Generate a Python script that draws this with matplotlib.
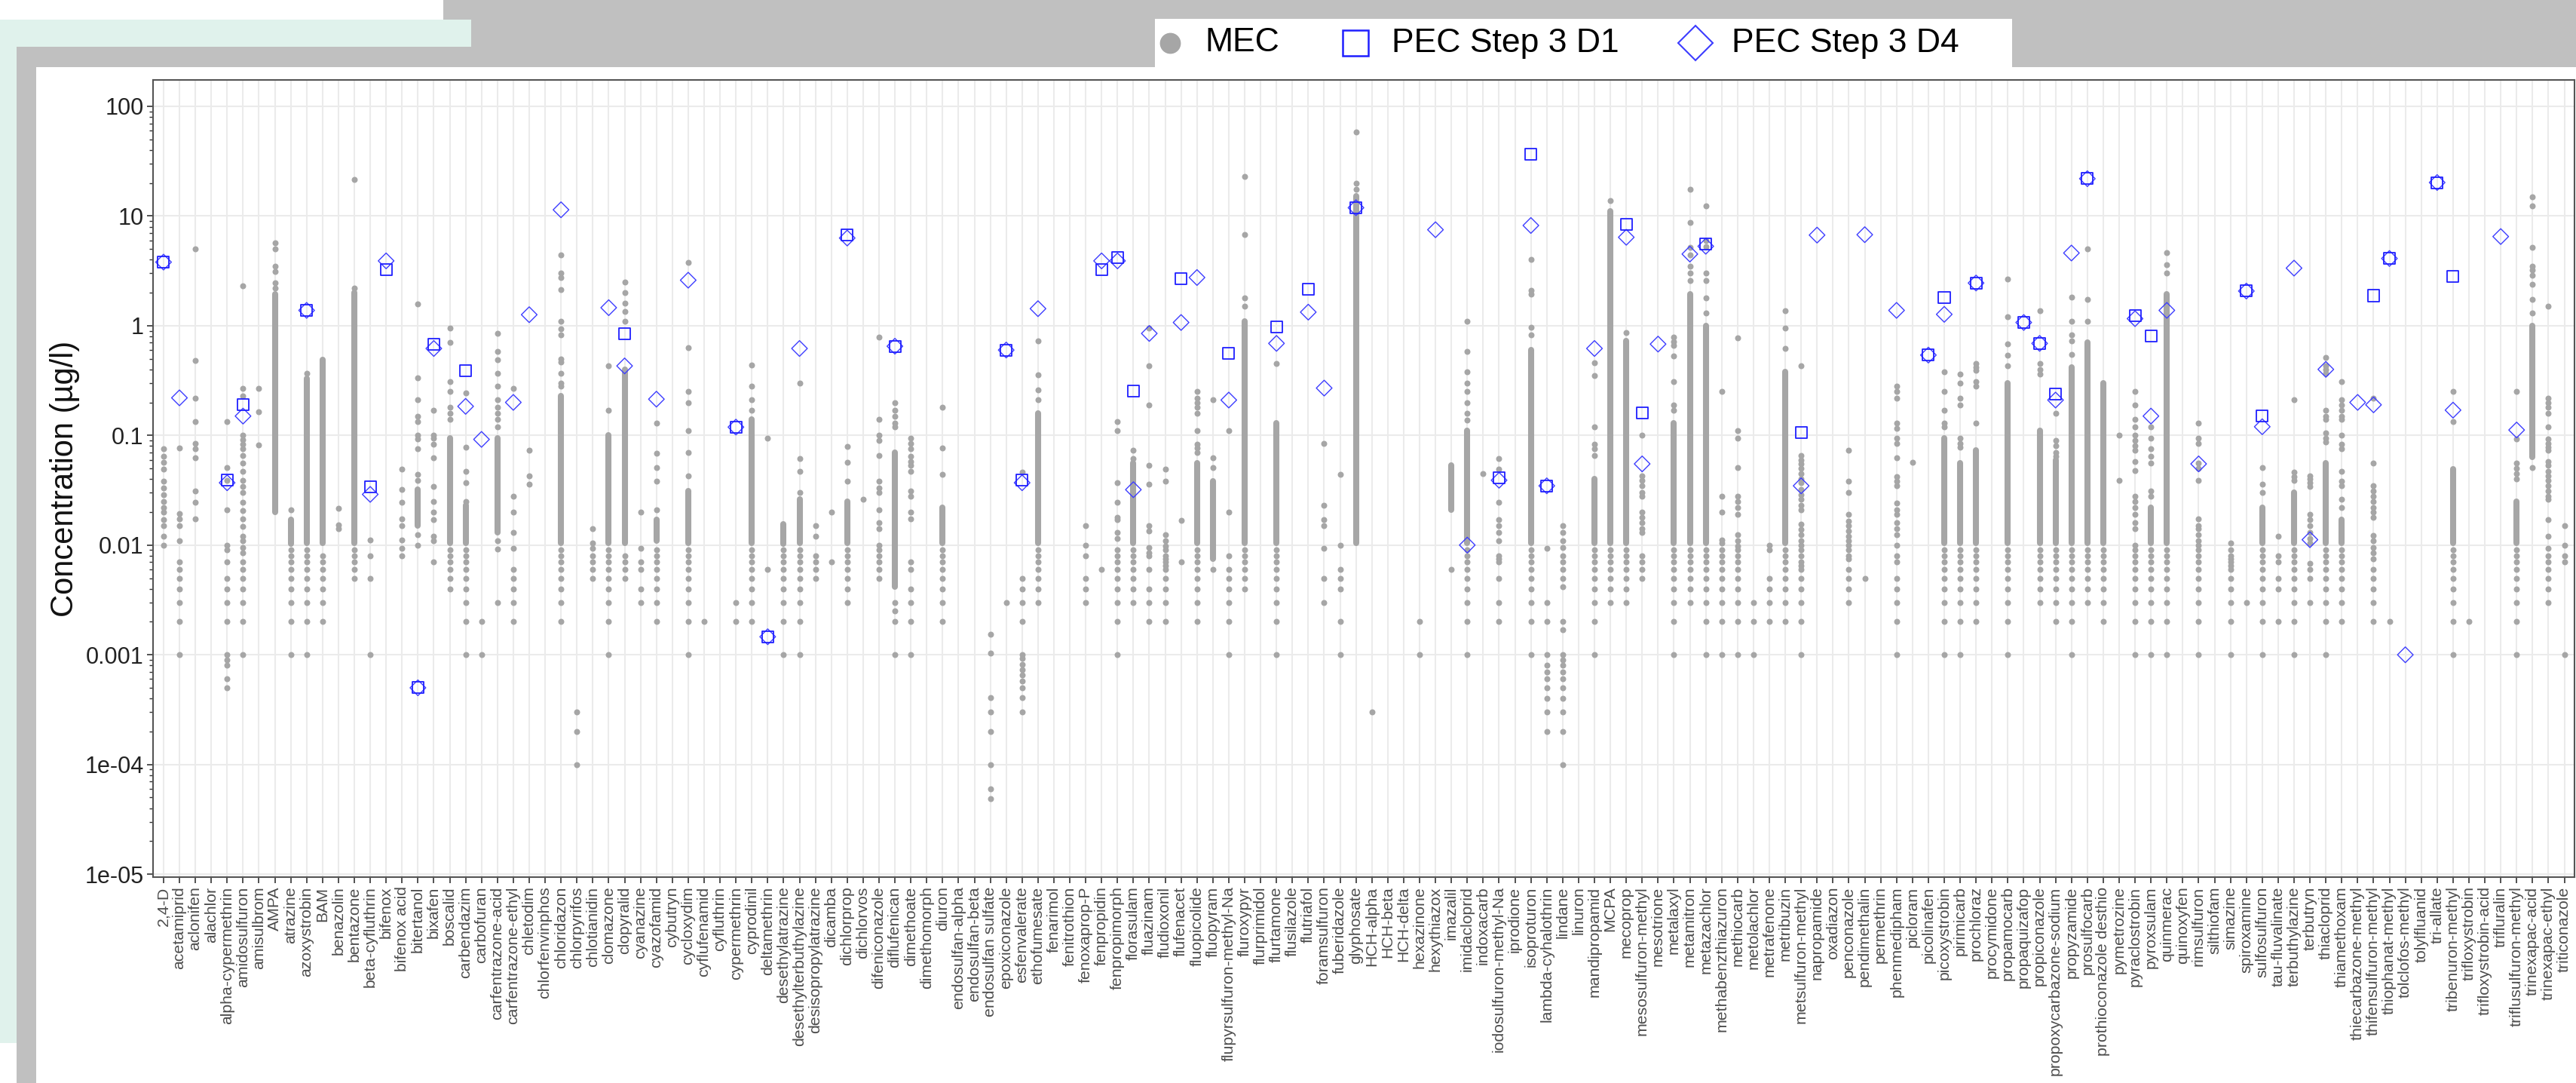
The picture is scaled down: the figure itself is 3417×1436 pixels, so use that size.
import matplotlib
matplotlib.use("Agg")
import matplotlib.pyplot as plt
from matplotlib.patches import Rectangle
from matplotlib.lines import Line2D
from matplotlib.ticker import LogLocator, NullFormatter

plt.rcParams['font.family'] = ['Liberation Sans', 'DejaVu Sans']

compounds = [
    "2,4-D", "acetamiprid", "aclonifen", "alachlor", "alpha-cypermethrin", "amidosulfuron",
    "amisulbrom", "AMPA", "atrazine", "azoxystrobin", "BAM", "benazolin", "bentazone",
    "beta-cyfluthrin", "bifenox", "bifenox acid", "bitertanol", "bixafen", "boscalid",
    "carbendazim", "carbofuran", "carfentrazone-acid", "carfentrazone-ethyl", "chletodim",
    "chlorfenvinphos", "chloridazon", "chlorpyrifos", "chlotianidin", "clomazone", "clopyralid",
    "cyanazine", "cyazofamid", "cybutryn", "cycloxydim", "cyflufenamid", "cyfluthrin",
    "cypermethrin", "cyprodinil", "deltamethrin", "desethylatrazine", "desethylterbuthylazine",
    "desisopropylatrazine", "dicamba", "dichlorprop", "dichlorvos", "difeniconazole",
    "diflufenican", "dimethoate", "dimethomorph", "diuron", "endosulfan-alpha", "endosulfan-beta",
    "endosulfan sulfate", "epoxiconazole", "esfenvalerate", "ethofumesate", "fenarimol",
    "fenitrothion", "fenoxaprop-P", "fenpropidin", "fenpropimorph", "florasulam", "fluazinam",
    "fludioxonil", "flufenacet", "fluopicolide", "fluopyram", "flupyrsulfuron-methyl-Na",
    "fluroxypyr", "flurprimidol", "flurtamone", "flusilazole", "flutriafol", "foramsulfuron",
    "fuberidazole", "glyphosate", "HCH-alpha", "HCH-beta", "HCH-delta", "hexazinone",
    "hexythiazox", "imazalil", "imidacloprid", "indoxacarb", "iodosulfuron-methyl-Na",
    "iprodione", "isoproturon", "lambda-cyhalothrin", "lindane", "linuron", "mandipropamid",
    "MCPA", "mecoprop", "mesosulfuron-methyl", "mesotrione", "metalaxyl", "metamitron",
    "metazachlor", "methabenzthiazuron", "methiocarb", "metolachlor", "metrafenone",
    "metribuzin", "metsulfuron-methyl", "napropamide", "oxadiazon", "penconazole",
    "pendimethalin", "permethrin", "phenmedipham", "picloram", "picolinafen", "picoxystrobin",
    "pirimicarb", "prochloraz", "procymidone", "propamocarb", "propaquizafop", "propiconazole",
    "propoxycarbazone-sodium", "propyzamide", "prosulfocarb", "prothioconazole desthio",
    "pymetrozine", "pyraclostrobin", "pyroxsulam", "quinmerac", "quinoxyfen", "rimsulfuron",
    "silthiofam", "simazine", "spiroxamine", "sulfosulfuron", "tau-fluvalinate",
    "terbuthylazine", "terbutryn", "thiacloprid", "thiamethoxam", "thiecarbazone-methyl",
    "thifensulfuron-methyl", "thiophanat-methyl", "tolclofos-methyl", "tolylfluanid",
    "tri-allate", "tribenuron-methyl", "trifloxystrobin", "trifloxystrobin-acid", "trifluralin",
    "triflusulfuron-methyl", "trinexapac-acid", "trinexapac-ethyl", "triticonazole",
]

# measured environmental concentrations (single dots)
mec_points = {
    "2,4-D": [0.075, 0.065, 0.057, 0.049, 0.038, 0.033, 0.029, 0.025, 0.022, 0.02, 0.017, 0.015, 0.012, 0.01],
    "acetamiprid": [0.077, 0.0195, 0.0174, 0.015, 0.011, 0.007, 0.006, 0.005, 0.004, 0.003, 0.002, 0.001],
    "aclonifen": [5.0, 0.48, 0.22, 0.133, 0.084, 0.075, 0.063, 0.031, 0.0245, 0.0174],
    "alpha-cypermethrin": [0.133, 0.051, 0.039, 0.021, 0.01, 0.009, 0.007, 0.005, 0.004, 0.003, 0.002,
                           0.001, 0.0009, 0.0008, 0.0006, 0.0005],
    "amidosulfuron": [2.3, 0.27, 0.23, 0.1, 0.092, 0.083, 0.075, 0.066, 0.056, 0.047, 0.039, 0.034, 0.03,
                      0.0245, 0.0205, 0.0174, 0.0147, 0.012, 0.011, 0.0095, 0.0085, 0.007, 0.006, 0.005,
                      0.004, 0.003, 0.002, 0.001],
    "amisulbrom": [0.27, 0.164, 0.082],
    "AMPA": [5.7, 5.0, 3.5, 3.1, 2.45, 2.2],
    "atrazine": [0.021, 0.009, 0.008, 0.007, 0.006, 0.005, 0.004, 0.003, 0.002, 0.001],
    "azoxystrobin": [0.37, 0.009, 0.008, 0.007, 0.006, 0.005, 0.004, 0.003, 0.002, 0.001],
    "BAM": [0.008, 0.007, 0.006, 0.005, 0.004, 0.003, 0.002],
    "benazolin": [0.0215, 0.0153, 0.0142],
    "bentazone": [21.4, 2.2, 0.009, 0.008, 0.007, 0.006, 0.005],
    "beta-cyfluthrin": [0.0112, 0.008, 0.005, 0.001],
    "bifenox acid": [0.049, 0.032, 0.0245, 0.0174, 0.015, 0.0112, 0.0094, 0.008],
    "bitertanol": [1.58, 0.335, 0.21, 0.15, 0.133, 0.1, 0.093, 0.075, 0.044, 0.039, 0.0124, 0.01],
    "bixafen": [0.17, 0.1, 0.095, 0.083, 0.063, 0.034, 0.025, 0.02, 0.017, 0.012, 0.011, 0.007],
    "boscalid": [0.95, 0.71, 0.31, 0.25, 0.18, 0.16, 0.14, 0.009, 0.008, 0.007, 0.006, 0.005, 0.004],
    "carbendazim": [0.245, 0.078, 0.047, 0.037, 0.025, 0.009, 0.008, 0.007, 0.006, 0.005, 0.004, 0.003,
                    0.002, 0.001],
    "carbofuran": [0.002, 0.001],
    "carfentrazone-acid": [0.85, 0.58, 0.49, 0.37, 0.28, 0.21, 0.18, 0.16, 0.14, 0.12, 0.011, 0.0092, 0.003],
    "carfentrazone-ethyl": [0.27, 0.028, 0.02, 0.013, 0.0093, 0.006, 0.005, 0.004, 0.003, 0.002],
    "chletodim": [0.073, 0.043, 0.036],
    "chloridazon": [4.4, 3.0, 2.75, 2.14, 1.1, 0.94, 0.83, 0.5, 0.47, 0.37, 0.3, 0.28, 0.009, 0.008,
                    0.007, 0.006, 0.005, 0.004, 0.003, 0.002],
    "chlorpyrifos": [0.0003, 0.0002, 0.0001],
    "chlotianidin": [0.0142, 0.0104, 0.0094, 0.008, 0.007, 0.006, 0.005],
    "clomazone": [0.43, 0.17, 0.009, 0.008, 0.007, 0.006, 0.005, 0.004, 0.003, 0.002, 0.001],
    "clopyralid": [2.5, 2.0, 1.6, 1.35, 1.1, 0.008, 0.007, 0.006, 0.005],
    "cyanazine": [0.02, 0.0094, 0.007, 0.006, 0.004, 0.003],
    "cyazofamid": [0.13, 0.069, 0.051, 0.038, 0.021, 0.009, 0.008, 0.007, 0.006, 0.005, 0.004, 0.003, 0.002],
    "cycloxydim": [3.76, 0.63, 0.25, 0.2, 0.11, 0.07, 0.043, 0.009, 0.008, 0.007, 0.006, 0.005, 0.004,
                   0.003, 0.002, 0.001],
    "cyflufenamid": [0.002],
    "cypermethrin": [0.003, 0.002],
    "cyprodinil": [0.44, 0.28, 0.21, 0.17, 0.009, 0.008, 0.007, 0.006, 0.005, 0.004, 0.003, 0.002],
    "deltamethrin": [0.094, 0.006],
    "desethylatrazine": [0.009, 0.008, 0.007, 0.006, 0.005, 0.004, 0.003, 0.002, 0.001],
    "desethylterbuthylazine": [0.3, 0.062, 0.047, 0.03, 0.009, 0.008, 0.007, 0.006, 0.005, 0.004, 0.003,
                               0.002, 0.001],
    "desisopropylatrazine": [0.015, 0.012, 0.008, 0.007, 0.006, 0.005],
    "dicamba": [0.02, 0.007],
    "dichlorprop": [0.079, 0.057, 0.038, 0.009, 0.008, 0.007, 0.006, 0.005, 0.004, 0.003],
    "dichlorvos": [0.026],
    "difeniconazole": [0.79, 0.14, 0.1, 0.09, 0.066, 0.038, 0.033, 0.03, 0.021, 0.016, 0.0142, 0.01,
                       0.009, 0.008, 0.007, 0.006, 0.005],
    "diflufenican": [0.2, 0.17, 0.15, 0.13, 0.12, 0.003, 0.0025, 0.002, 0.001],
    "dimethoate": [0.094, 0.085, 0.075, 0.065, 0.058, 0.053, 0.047, 0.031, 0.028, 0.02, 0.0174, 0.007,
                   0.006, 0.004, 0.003, 0.002, 0.001],
    "diuron": [0.18, 0.077, 0.044, 0.009, 0.008, 0.007, 0.006, 0.005, 0.004, 0.003, 0.002],
    "endosulfan sulfate": [0.00155, 0.00104, 0.00041, 0.0003, 0.0002, 0.0001, 6e-5, 4.9e-5],
    "epoxiconazole": [0.003],
    "esfenvalerate": [0.046, 0.005, 0.004, 0.003, 0.002, 0.001, 0.00092, 0.00082, 0.00073, 0.00065,
                      0.00058, 0.0005, 0.00041, 0.0003],
    "ethofumesate": [0.73, 0.355, 0.26, 0.21, 0.009, 0.008, 0.007, 0.006, 0.005, 0.004, 0.003],
    "fenoxaprop-P": [0.015, 0.01, 0.008, 0.005, 0.004, 0.003],
    "fenpropidin": [0.006],
    "fenpropimorph": [0.133, 0.11, 0.037, 0.0245, 0.018, 0.017, 0.013, 0.0115, 0.009, 0.008, 0.007,
                      0.006, 0.005, 0.004, 0.003, 0.002, 0.001],
    "florasulam": [0.073, 0.062, 0.009, 0.008, 0.007, 0.006, 0.005, 0.004, 0.003],
    "fluazinam": [0.95, 0.43, 0.19, 0.053, 0.036, 0.015, 0.0135, 0.0095, 0.0085, 0.008, 0.006, 0.004,
                  0.003, 0.002],
    "fludioxonil": [0.049, 0.038, 0.0124, 0.011, 0.0098, 0.009, 0.008, 0.0075, 0.007, 0.0065, 0.006,
                    0.005, 0.004, 0.003, 0.002],
    "flufenacet": [0.0167, 0.007],
    "fluopicolide": [0.25, 0.22, 0.2, 0.18, 0.16, 0.11, 0.083, 0.077, 0.07, 0.009, 0.008, 0.007, 0.006,
                     0.005, 0.004, 0.003, 0.002],
    "fluopyram": [0.21, 0.063, 0.051, 0.006],
    "flupyrsulfuron-methyl-Na": [0.11, 0.02, 0.008, 0.006, 0.005, 0.004, 0.003, 0.002, 0.001],
    "fluroxypyr": [23, 6.8, 1.8, 1.5, 0.009, 0.008, 0.007, 0.006, 0.005, 0.004],
    "flurtamone": [0.45, 0.009, 0.008, 0.007, 0.006, 0.005, 0.004, 0.003, 0.002, 0.001],
    "foramsulfuron": [0.085, 0.023, 0.017, 0.015, 0.0094, 0.005, 0.003],
    "fuberidazole": [0.044, 0.01, 0.006, 0.005, 0.004, 0.002, 0.001],
    "glyphosate": [58, 20, 17.5],
    "HCH-alpha": [0.0003],
    "hexazinone": [0.002, 0.001],
    "imazalil": [0.006],
    "imidacloprid": [1.1, 0.58, 0.38, 0.3, 0.25, 0.2, 0.16, 0.137, 0.009, 0.008, 0.007, 0.006, 0.005,
                     0.004, 0.003, 0.002, 0.001],
    "indoxacarb": [0.045],
    "iodosulfuron-methyl-Na": [0.062, 0.049, 0.0245, 0.017, 0.015, 0.013, 0.011, 0.008, 0.0075, 0.007,
                               0.005, 0.003, 0.002],
    "isoproturon": [4.0, 2.1, 1.95, 0.96, 0.83, 0.009, 0.008, 0.007, 0.006, 0.005, 0.004, 0.003, 0.002, 0.001],
    "lambda-cyhalothrin": [0.0094, 0.003, 0.002, 0.001, 0.0008, 0.0007, 0.0006, 0.0005, 0.0004, 0.0003, 0.0002],
    "lindane": [0.015, 0.013, 0.011, 0.0095, 0.008, 0.007, 0.006, 0.005, 0.0042, 0.002, 0.0017, 0.001,
                0.0009, 0.0008, 0.0007, 0.0006, 0.0005, 0.0004, 0.0003, 0.0002, 0.0001],
    "mandipropamid": [0.46, 0.35, 0.12, 0.083, 0.075, 0.066, 0.009, 0.008, 0.007, 0.006, 0.005, 0.004,
                      0.003, 0.002, 0.001],
    "MCPA": [13.8, 0.009, 0.008, 0.007, 0.006, 0.005, 0.004, 0.003],
    "mecoprop": [0.87, 0.009, 0.008, 0.007, 0.006, 0.005, 0.004, 0.003],
    "mesosulfuron-methyl": [0.1, 0.043, 0.039, 0.035, 0.03, 0.028, 0.02, 0.018, 0.016, 0.0142, 0.013,
                            0.008, 0.007, 0.006, 0.005],
    "metalaxyl": [0.79, 0.72, 0.66, 0.53, 0.31, 0.19, 0.17, 0.009, 0.008, 0.007, 0.006, 0.005, 0.004,
                  0.003, 0.002, 0.001],
    "metamitron": [17.4, 8.7, 5.2, 4.4, 3.5, 3.0, 2.6, 0.009, 0.008, 0.007, 0.006, 0.005, 0.004, 0.003],
    "metazachlor": [12.3, 6.0, 5.3, 3.0, 2.6, 1.8, 1.3, 0.009, 0.008, 0.007, 0.006, 0.005, 0.004, 0.003,
                    0.002, 0.001],
    "methabenzthiazuron": [0.25, 0.028, 0.02, 0.0112, 0.0104, 0.009, 0.008, 0.007, 0.006, 0.005, 0.004,
                           0.003, 0.002, 0.001],
    "methiocarb": [0.77, 0.11, 0.095, 0.051, 0.028, 0.025, 0.022, 0.019, 0.0124, 0.011, 0.0098, 0.009,
                   0.008, 0.007, 0.006, 0.005, 0.004, 0.003, 0.002, 0.001],
    "metolachlor": [0.003, 0.002, 0.001],
    "metrafenone": [0.01, 0.009, 0.005, 0.004, 0.003, 0.002],
    "metribuzin": [1.38, 0.95, 0.62, 0.009, 0.008, 0.007, 0.006, 0.005, 0.004, 0.003, 0.002],
    "metsulfuron-methyl": [0.43, 0.066, 0.06, 0.055, 0.05, 0.045, 0.04, 0.037, 0.032, 0.029, 0.026, 0.023,
                           0.021, 0.0155, 0.014, 0.0125, 0.011, 0.01, 0.009, 0.008, 0.007, 0.0065, 0.006,
                           0.005, 0.004, 0.003, 0.002, 0.001],
    "penconazole": [0.073, 0.0385, 0.03, 0.019, 0.0165, 0.015, 0.0135, 0.012, 0.011, 0.01, 0.009, 0.008,
                    0.0075, 0.006, 0.005, 0.004, 0.003],
    "pendimethalin": [0.005],
    "phenmedipham": [0.28, 0.25, 0.22, 0.13, 0.115, 0.095, 0.085, 0.063, 0.042, 0.038, 0.035, 0.024, 0.021,
                     0.019, 0.016, 0.0142, 0.0125, 0.01, 0.008, 0.007, 0.005, 0.004, 0.003, 0.002, 0.001],
    "picloram": [0.057],
    "picoxystrobin": [0.38, 0.25, 0.17, 0.13, 0.12, 0.009, 0.008, 0.007, 0.006, 0.005, 0.004, 0.003,
                      0.002, 0.001],
    "pirimicarb": [0.36, 0.3, 0.22, 0.19, 0.095, 0.085, 0.078, 0.009, 0.008, 0.007, 0.006, 0.005, 0.004,
                   0.003, 0.002, 0.001],
    "prochloraz": [0.45, 0.42, 0.39, 0.31, 0.28, 0.13, 0.009, 0.008, 0.007, 0.006, 0.005, 0.004, 0.003, 0.002],
    "propamocarb": [2.66, 1.2, 0.68, 0.54, 0.43, 0.009, 0.008, 0.007, 0.006, 0.005, 0.004, 0.003, 0.002, 0.001],
    "propiconazole": [1.38, 0.45, 0.4, 0.36, 0.009, 0.008, 0.007, 0.006, 0.005, 0.004, 0.003],
    "propoxycarbazone-sodium": [0.16, 0.09, 0.08, 0.07, 0.065, 0.009, 0.008, 0.007, 0.006, 0.005, 0.004,
                                0.003, 0.002],
    "propyzamide": [1.83, 1.1, 0.83, 0.73, 0.55, 0.009, 0.008, 0.007, 0.006, 0.005, 0.004, 0.003, 0.002, 0.001],
    "prosulfocarb": [5.0, 1.75, 1.1, 0.009, 0.008, 0.007, 0.006, 0.005, 0.004, 0.003],
    "prothioconazole desthio": [0.009, 0.008, 0.007, 0.006, 0.005, 0.004, 0.003, 0.002],
    "pymetrozine": [0.1, 0.039],
    "pyraclostrobin": [0.25, 0.19, 0.14, 0.12, 0.1, 0.09, 0.08, 0.073, 0.058, 0.048, 0.028, 0.025, 0.022,
                       0.019, 0.016, 0.0142, 0.01, 0.009, 0.008, 0.007, 0.006, 0.005, 0.004, 0.003, 0.002, 0.001],
    "pyroxsulam": [0.12, 0.095, 0.075, 0.065, 0.056, 0.031, 0.028, 0.009, 0.008, 0.007, 0.006, 0.005,
                   0.004, 0.003, 0.002, 0.001],
    "quinmerac": [4.6, 3.6, 3.0, 0.009, 0.008, 0.007, 0.006, 0.005, 0.004, 0.003, 0.002, 0.001],
    "rimsulfuron": [0.13, 0.095, 0.085, 0.056, 0.05, 0.039, 0.0174, 0.015, 0.0142, 0.0125, 0.011, 0.01,
                    0.009, 0.008, 0.007, 0.006, 0.005, 0.004, 0.003, 0.002, 0.001],
    "simazine": [0.0104, 0.009, 0.008, 0.0075, 0.007, 0.0065, 0.006, 0.005, 0.004, 0.003, 0.002, 0.001],
    "spiroxamine": [0.003],
    "sulfosulfuron": [0.051, 0.036, 0.03, 0.009, 0.008, 0.007, 0.006, 0.005, 0.004, 0.003, 0.002, 0.001],
    "tau-fluvalinate": [0.012, 0.008, 0.007, 0.005, 0.004, 0.002],
    "terbuthylazine": [0.21, 0.046, 0.042, 0.039, 0.009, 0.008, 0.007, 0.006, 0.005, 0.004, 0.003,
                       0.002, 0.001],
    "terbutryn": [0.043, 0.04, 0.037, 0.034, 0.019, 0.017, 0.015, 0.013, 0.0115, 0.0104, 0.0068, 0.006,
                  0.005, 0.003],
    "thiacloprid": [0.51, 0.43, 0.4, 0.37, 0.17, 0.15, 0.14, 0.105, 0.095, 0.087, 0.009, 0.008, 0.007,
                    0.006, 0.005, 0.004, 0.003, 0.002, 0.001],
    "thiamethoxam": [0.31, 0.21, 0.19, 0.17, 0.15, 0.14, 0.1, 0.083, 0.075, 0.047, 0.038, 0.035, 0.026,
                     0.022, 0.009, 0.008, 0.007, 0.006, 0.005, 0.004, 0.003, 0.002],
    "thifensulfuron-methyl": [0.22, 0.056, 0.035, 0.031, 0.028, 0.025, 0.022, 0.02, 0.018, 0.0122, 0.011,
                              0.0095, 0.0085, 0.0075, 0.006, 0.005, 0.004, 0.003, 0.002],
    "thiophanat-methyl": [0.002],
    "tribenuron-methyl": [0.25, 0.133, 0.009, 0.008, 0.007, 0.006, 0.005, 0.004, 0.003, 0.002, 0.001],
    "trifloxystrobin": [0.002],
    "triflusulfuron-methyl": [0.25, 0.093, 0.056, 0.05, 0.045, 0.04, 0.009, 0.008, 0.007, 0.006, 0.005,
                              0.004, 0.003, 0.002, 0.001],
    "trinexapac-acid": [15, 12.4, 5.2, 3.5, 3.2, 2.9, 2.4, 1.75, 1.3, 0.051],
    "trinexapac-ethyl": [1.5, 0.22, 0.2, 0.18, 0.16, 0.12, 0.093, 0.085, 0.078, 0.073, 0.058, 0.053, 0.047,
                         0.043, 0.039, 0.035, 0.031, 0.028, 0.026, 0.017, 0.012, 0.0094, 0.008, 0.007,
                         0.006, 0.005, 0.004, 0.003],
    "triticonazole": [0.015, 0.01, 0.008, 0.007, 0.001],
}

# stretches where MEC dots overlap into a continuous column (low, high)
mec_dense = {
    "AMPA": (0.02, 1.95), "atrazine": (0.0103, 0.017), "azoxystrobin": (0.0104, 0.33),
    "BAM": (0.0104, 0.49), "bentazone": (0.0104, 2.0), "bitertanol": (0.015, 0.032),
    "boscalid": (0.0104, 0.095), "carbendazim": (0.0104, 0.023), "carfentrazone-acid": (0.013, 0.095),
    "chloridazon": (0.0104, 0.23), "clomazone": (0.0104, 0.1), "clopyralid": (0.0104, 0.4),
    "cyazofamid": (0.011, 0.017), "cycloxydim": (0.0104, 0.031), "cyprodinil": (0.0104, 0.14),
    "desethylatrazine": (0.0103, 0.0155), "desethylterbuthylazine": (0.0104, 0.026),
    "dichlorprop": (0.0104, 0.025), "diflufenican": (0.0042, 0.07), "diuron": (0.0104, 0.022),
    "ethofumesate": (0.0104, 0.16), "florasulam": (0.0104, 0.056), "fluopicolide": (0.0104, 0.056),
    "fluopyram": (0.0075, 0.038), "fluroxypyr": (0.0104, 1.1), "flurtamone": (0.0104, 0.13),
    "glyphosate": (0.0104, 15.2), "imazalil": (0.021, 0.053), "imidacloprid": (0.0104, 0.11),
    "isoproturon": (0.0104, 0.6), "mandipropamid": (0.0104, 0.04), "MCPA": (0.0104, 11.0),
    "mecoprop": (0.0104, 0.73), "metalaxyl": (0.0104, 0.13), "metamitron": (0.0104, 1.95),
    "metazachlor": (0.0104, 1.0), "metribuzin": (0.0104, 0.38), "picoxystrobin": (0.0104, 0.095),
    "pirimicarb": (0.0104, 0.056), "prochloraz": (0.0104, 0.073), "propamocarb": (0.0104, 0.3),
    "propiconazole": (0.0104, 0.11), "propoxycarbazone-sodium": (0.0104, 0.06),
    "propyzamide": (0.0104, 0.42), "prosulfocarb": (0.0104, 0.7),
    "prothioconazole desthio": (0.0104, 0.3), "pyroxsulam": (0.0104, 0.022),
    "quinmerac": (0.0104, 1.95), "sulfosulfuron": (0.0104, 0.022), "terbuthylazine": (0.0104, 0.03),
    "thiacloprid": (0.0104, 0.056), "thiamethoxam": (0.0104, 0.017), "tribenuron-methyl": (0.0104, 0.049),
    "triflusulfuron-methyl": (0.0104, 0.025), "trinexapac-acid": (0.064, 1.0),
}

pec_d1 = {
    "2,4-D": 3.8, "alpha-cypermethrin": 0.039, "amidosulfuron": 0.19, "azoxystrobin": 1.38,
    "beta-cyfluthrin": 0.034, "bifenox": 3.27, "bitertanol": 0.0005, "bixafen": 0.68,
    "carbendazim": 0.39, "clopyralid": 0.84, "cypermethrin": 0.119, "deltamethrin": 0.00146,
    "dichlorprop": 6.7, "diflufenican": 0.65, "epoxiconazole": 0.6, "esfenvalerate": 0.039,
    "fenpropidin": 3.27, "fenpropimorph": 4.2, "florasulam": 0.254, "flufenacet": 2.7,
    "flupyrsulfuron-methyl-Na": 0.56, "flurtamone": 0.98, "flutriafol": 2.14, "glyphosate": 11.9,
    "iodosulfuron-methyl-Na": 0.041, "isoproturon": 36.7, "lambda-cyhalothrin": 0.0347,
    "mecoprop": 8.4, "mesosulfuron-methyl": 0.16, "metazachlor": 5.6, "metsulfuron-methyl": 0.106,
    "picolinafen": 0.54, "picoxystrobin": 1.8, "prochloraz": 2.45, "propaquizafop": 1.07,
    "propiconazole": 0.69, "propoxycarbazone-sodium": 0.24, "prosulfocarb": 21.9,
    "pyraclostrobin": 1.23, "pyroxsulam": 0.81, "spiroxamine": 2.07, "sulfosulfuron": 0.15,
    "thifensulfuron-methyl": 1.88, "thiophanat-methyl": 4.1, "tri-allate": 20.2,
    "tribenuron-methyl": 2.8,
}

pec_d4 = {
    "2,4-D": 3.8, "acetamiprid": 0.22, "alpha-cypermethrin": 0.037, "amidosulfuron": 0.15,
    "azoxystrobin": 1.38, "beta-cyfluthrin": 0.029, "bifenox": 3.9, "bitertanol": 0.0005,
    "bixafen": 0.62, "carbendazim": 0.184, "carbofuran": 0.092, "carfentrazone-ethyl": 0.2,
    "chletodim": 1.26, "chloridazon": 11.4, "clomazone": 1.46, "clopyralid": 0.43,
    "cyazofamid": 0.214, "cycloxydim": 2.6, "cypermethrin": 0.119, "deltamethrin": 0.00146,
    "desethylterbuthylazine": 0.62, "dichlorprop": 6.3, "diflufenican": 0.65, "epoxiconazole": 0.6,
    "esfenvalerate": 0.037, "ethofumesate": 1.43, "fenpropidin": 3.9, "fenpropimorph": 3.9,
    "florasulam": 0.032, "fluazinam": 0.85, "flufenacet": 1.07, "fluopicolide": 2.75,
    "flupyrsulfuron-methyl-Na": 0.21, "flurtamone": 0.69, "flutriafol": 1.33, "foramsulfuron": 0.27,
    "glyphosate": 11.9, "hexythiazox": 7.5, "imidacloprid": 0.01, "iodosulfuron-methyl-Na": 0.039,
    "isoproturon": 8.2, "lambda-cyhalothrin": 0.0347, "mandipropamid": 0.62, "mecoprop": 6.4,
    "mesosulfuron-methyl": 0.055, "mesotrione": 0.68, "metamitron": 4.5, "metazachlor": 5.3,
    "metsulfuron-methyl": 0.0347, "napropamide": 6.7, "pendimethalin": 6.76, "phenmedipham": 1.38,
    "picolinafen": 0.54, "picoxystrobin": 1.27, "prochloraz": 2.45, "propaquizafop": 1.07,
    "propiconazole": 0.69, "propoxycarbazone-sodium": 0.21, "propyzamide": 4.6, "prosulfocarb": 21.9,
    "pyraclostrobin": 1.16, "pyroxsulam": 0.15, "quinmerac": 1.38, "rimsulfuron": 0.055,
    "spiroxamine": 2.07, "sulfosulfuron": 0.12, "terbuthylazine": 3.35, "terbutryn": 0.0112,
    "thiacloprid": 0.4, "thiecarbazone-methyl": 0.2, "thifensulfuron-methyl": 0.19,
    "thiophanat-methyl": 4.1, "tolclofos-methyl": 0.001, "tri-allate": 20.2, "tribenuron-methyl": 0.17,
    "trifluralin": 6.5, "triflusulfuron-methyl": 0.112,
}

y_ticks = [1e-5, 1e-4, 1e-3, 1e-2, 1e-1, 1, 10, 100]
y_tick_labels = ["1e-05", "1e-04", "0.001", "0.01", "0.1", "1", "10", "100"]

W, H = 3417, 1436
GRAY_DOT = "#a6a6a6"

fig = plt.figure(figsize=(W / 100, H / 100), dpi=100, facecolor="#c0c0c0")


def px_rect(x0, y0, x1, y1, color):
    fig.add_artist(Rectangle((x0 / W, 1 - y1 / H), (x1 - x0) / W, (y1 - y0) / H,
                             transform=fig.transFigure, facecolor=color, edgecolor="none", zorder=-5))


# page background pieces around the chart panel
px_rect(0, 26, 625, 62, "#e0f2ec")
px_rect(0, 62, 22, 1383, "#e0f2ec")
px_rect(0, 1383, 22, H, "white")
px_rect(0, 0, 588, 26, "white")
px_rect(48, 89, W, H, "white")
px_rect(1532, 25, 2669, 89, "white")

ax = fig.add_axes([203 / W, 1 - 1163 / H, (3415 - 203) / W, (1163 - 106) / H])
ax.set_facecolor("white")

idx = {c: i for i, c in enumerate(compounds)}

for name, (lo, hi) in mec_dense.items():
    ax.vlines(idx[name], lo, hi, color=GRAY_DOT, linewidth=5.8, capstyle="round", zorder=2)

xs, ys = [], []
for name, vals in mec_points.items():
    xs += [idx[name]] * len(vals)
    ys += vals
ax.scatter(xs, ys, s=33, color=GRAY_DOT, linewidths=0, zorder=3)

ax.scatter([idx[c] for c in pec_d1], list(pec_d1.values()), marker="s", s=117,
           facecolors="none", edgecolors="#1f1fff", linewidths=1.3, zorder=5)
ax.scatter([idx[c] for c in pec_d4], list(pec_d4.values()), marker="D", s=112,
           facecolors="none", edgecolors="#3d3dff", linewidths=1.0, zorder=4)

ax.set_yscale("log")
ax.set_ylim(9.4e-6, 174)
ax.set_xlim(-0.66, len(compounds) - 1 + 0.64)

ax.set_yticks(y_ticks)
ax.set_yticklabels(y_tick_labels, fontsize=22, color="#222222")
ax.yaxis.set_minor_locator(LogLocator(base=10, subs=range(2, 10), numticks=20))
ax.yaxis.set_minor_formatter(NullFormatter())
ax.tick_params(axis="y", which="major", length=6, width=1.2, color="#333333", pad=3)
ax.tick_params(axis="y", which="minor", length=3.5, width=1.0, color="#333333")

ax.set_xticks(range(len(compounds)))
ax.set_xticklabels(compounds, rotation=90, fontsize=15.3, color="#4d4d4d")
ax.tick_params(axis="x", length=6, width=1.2, color="#333333", pad=3)

ax.grid(True, which="major", color="#ebebeb", linewidth=1.5, zorder=0)
ax.set_axisbelow(True)
for sp in ax.spines.values():
    sp.set_color("#555555")
    sp.set_linewidth(1.5)

ax.set_ylabel("Concentration (µg/l)", fontsize=30, color="#111111")
ax.yaxis.set_label_coords(-0.0302, 0.5)

# legend drawn on the white tab above the panel
ly = 1 - 57 / H
fig.add_artist(Line2D([1552 / W], [ly], transform=fig.transFigure, marker="o", markersize=19,
                      color=GRAY_DOT, linestyle="none"))
fig.text(1598 / W, ly, "MEC", fontsize=32, va="center", ha="left")
fig.add_artist(Line2D([1798 / W], [ly], transform=fig.transFigure, marker="s", markersize=24,
                      markerfacecolor="none", markeredgecolor="#1f1fff", markeredgewidth=1.8,
                      linestyle="none"))
fig.text(1846 / W, ly, "PEC Step 3 D1", fontsize=32, va="center", ha="left")
fig.add_artist(Line2D([2249 / W], [ly], transform=fig.transFigure, marker="D", markersize=23,
                      markerfacecolor="none", markeredgecolor="#3d3dff", markeredgewidth=1.5,
                      linestyle="none"))
fig.text(2297 / W, ly, "PEC Step 3 D4", fontsize=32, va="center", ha="left")

fig.savefig("out.png", dpi=100, facecolor=fig.get_facecolor())
